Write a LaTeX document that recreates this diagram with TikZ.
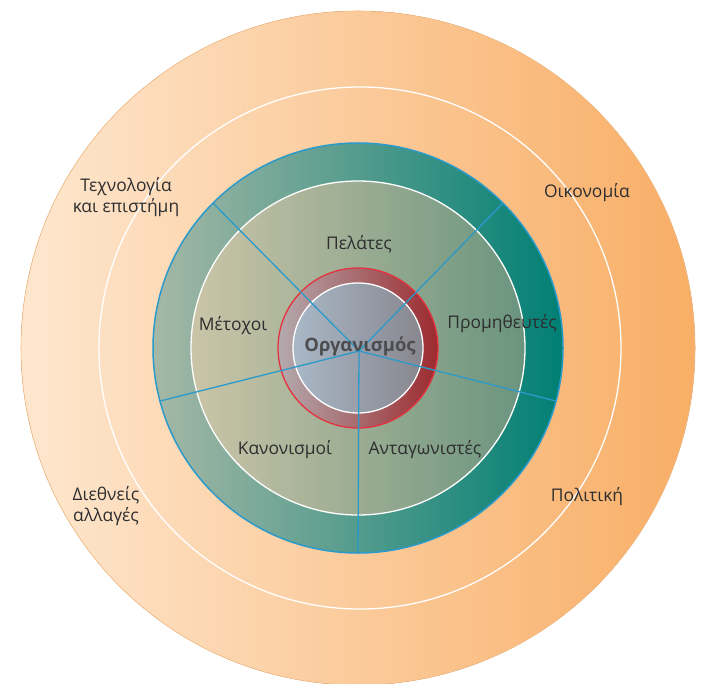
\documentclass[tikz,border=0pt]{standalone}
\usepackage{fontspec}
\setmainfont{Open Sans}
\usetikzlibrary{calc}
\definecolor{txt}{HTML}{2E2E30}
\definecolor{orL}{HTML}{FEE7CF}
\definecolor{orR}{HTML}{F8AE66}
\definecolor{tealL}{HTML}{A6B8A6}
\definecolor{tealR}{HTML}{007F74}
\definecolor{inL}{HTML}{CBC5A8}
\definecolor{inR}{HTML}{6A947E}
\definecolor{redL}{HTML}{B3AAAE}
\definecolor{redR}{HTML}{9C2A2E}
\definecolor{redO}{HTML}{E5323F}
\definecolor{grL}{HTML}{A9B8C6}
\definecolor{grR}{HTML}{88868E}
\definecolor{blu}{HTML}{2A9ACB}
\tikzset{
  lbl/.style={font=\fontsize{17.5}{21}\selectfont, text=txt, align=center, inner sep=0pt},
  ring/.style={draw=white, line width=1.3bp},
  spoke/.style={draw=blu, line width=1.3bp}
}
\begin{document}
\begin{tikzpicture}[x=1bp,y=-1bp]
\useasboundingbox[fill=white] (0,0) rectangle (704,684);
\coordinate (C) at (358,348);
% outer disk
\fill[left color=orL, right color=orR] (C) circle (337bp);
\draw[draw=orR!70!orL, line width=0.6bp] (C) circle (337bp);
\draw[ring] (360,348) circle (261bp);
% teal disk
\fill[left color=tealL, right color=tealR] (C) circle (205bp);
\fill[left color=inL, right color=inR] (C) circle (167bp);
\draw[ring] (C) circle (167bp);
% red ring
\fill[left color=redL, right color=redR] (C) circle (80bp);
\draw[draw=redO, line width=1.3bp] (C) circle (80bp);
\fill[left color=grL, right color=grR] (C) circle (65bp);
\draw[ring] (C) circle (65bp);
% spokes
\coordinate (S1) at ($(C)+(135:205bp)$);
\coordinate (S2) at ($(C)+(45:205bp)$);
\coordinate (S3) at ($(C)+(-15:205bp)$);
\coordinate (S4) at ($(C)+(195:205bp)$);
\coordinate (S5) at ($(C)+(270:205bp)$);
\coordinate (H) at (359,351);
\foreach \s in {S1,S2,S3,S4,S5} \draw[spoke] (H) -- (\s);
\draw[draw=blu, line width=1.5bp] (C) circle (205bp);
% labels
\node[lbl, font=\fontsize{18.5}{22}\selectfont\bfseries, text=txt!85] (org) at (360,346) {Οργανισμός};
\node[lbl] (pel) at (359,244) {Πελάτες};
\node[lbl] (met) at (233,326) {Μέτοχοι};
\node[lbl] (pro) at (502,324) {Προμηθευτές};
\node[lbl] (kan) at (285,450) {Κανονισμοί};
\node[lbl] (ant) at (425,450) {Ανταγωνιστές};
\node[lbl] (tex) at (126,197) {Τεχνολογία\\και επιστήμη};
\node[lbl] (oik) at (587,193) {Οικονομία};
\node[lbl] (die) at (106,506) {Διεθνείς\\αλλαγές};
\node[lbl] (pol) at (587,497) {Πολιτική};
\end{tikzpicture}
\end{document}
